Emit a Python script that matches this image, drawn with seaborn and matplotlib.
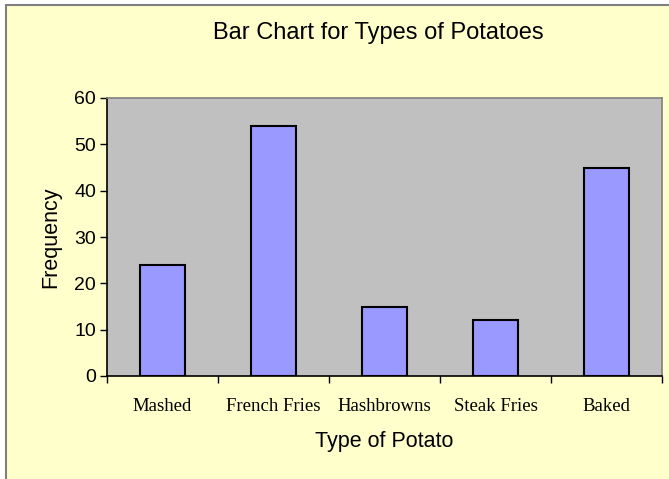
import matplotlib
matplotlib.use("Agg")
import matplotlib.pyplot as plt
import seaborn as sns
import numpy as np
from matplotlib.patches import Rectangle
from matplotlib.lines import Line2D

# data
potato_types = ["Mashed", "French Fries", "Hashbrowns", "Steak Fries", "Baked"]
frequency = [24, 54, 15, 12, 45]
y_ticks = [0, 10, 20, 30, 40, 50, 60]

sns.set_theme(style="white")
plt.rcParams['font.family'] = ['Liberation Sans', 'DejaVu Sans']

fig = plt.figure(figsize=(6.69, 4.79), dpi=100)
fig.patch.set_facecolor("white")

# pale yellow chart area with a grey left/top border
fig.patches.append(Rectangle((6 / 669, 0), 1, 1 - 5 / 479, transform=fig.transFigure,
                             facecolor="#FFFFCC", edgecolor="none", zorder=-10))
fig.lines.append(Line2D([6 / 669, 6 / 669], [0, 1 - 5 / 479], transform=fig.transFigure,
                        color="#808080", lw=1.5))
fig.lines.append(Line2D([6 / 669, 1], [1 - 5 / 479, 1 - 5 / 479], transform=fig.transFigure,
                        color="#808080", lw=1.5))

ax = fig.add_axes([107 / 669, 1 - 376 / 479, (662 - 107) / 669, (376 - 98) / 479])
ax.set_facecolor("#C0C0C0")

sns.barplot(x=potato_types, y=frequency, color="#9999FF", width=0.4,
            edgecolor="black", linewidth=1.5, saturation=1, ax=ax)

ax.set_xlim(-0.5, len(potato_types) - 0.5)
ax.set_ylim(0, 60)
ax.set_yticks(y_ticks)
ax.set_xticks(np.arange(len(potato_types)))
ax.set_xticklabels(potato_types, family=['Liberation Serif', 'DejaVu Serif'], fontsize=13.5)
ax.set_xticks(np.arange(-0.5, len(potato_types)), minor=True)
ax.tick_params(axis="x", which="major", length=0, pad=16, labelcolor="black")
ax.tick_params(axis="x", which="minor", length=5, width=1, color="black", direction="out", bottom=True)
ax.tick_params(axis="y", length=5, width=1, color="black", direction="out", left=True,
               labelsize=14, labelcolor="black", pad=3)

for s in ["top", "right"]:
    ax.spines[s].set_color("#808080")
    ax.spines[s].set_linewidth(1.2)
for s in ["left", "bottom"]:
    ax.spines[s].set_color("black")
    ax.spines[s].set_linewidth(1.2)

ax.set_xlabel("Type of Potato", fontsize=15.5, labelpad=11, color="black")
ax.set_ylabel("Frequency", fontsize=15.5, labelpad=9, color="black")
fig.text(378 / 669, 1 - 33 / 479, "Bar Chart for Types of Potatoes", ha="center", va="center",
         fontsize=17, color="black")

fig.savefig("out.png", dpi=100, facecolor=fig.get_facecolor())
